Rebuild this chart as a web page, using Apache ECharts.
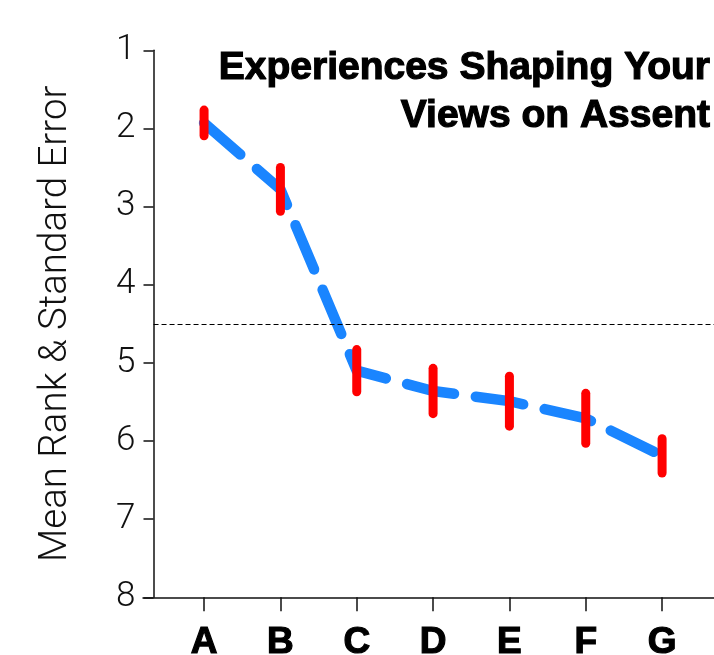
<!DOCTYPE html>
<html>
<head>
<meta charset="utf-8">
<title>Experiences Shaping Your Views on Assent</title>
<script src="https://cdn.jsdelivr.net/npm/echarts@6/dist/echarts.min.js"></script>
<style>
  html, body { margin: 0; padding: 0; background: #ffffff; }
  #chart { width: 714px; height: 655px; }
</style>
</head>
<body>
<div id="chart"></div>
<script>
// Categories (x positions 1..7) and their mean ranks with standard errors
const categories = ['A', 'B', 'C', 'D', 'E', 'F', 'G'];
const meanRank = [1.93, 2.78, 5.10, 5.36, 5.49, 5.71, 6.19];
const stdError = [0.165, 0.28, 0.27, 0.29, 0.32, 0.32, 0.22];
const rankTicks = [1, 2, 3, 4, 5, 6, 7, 8];
const referenceRank = 4.5;

const positions = categories.map((c, i) => i + 1);
const lineData = positions.map((x, i) => [x, meanRank[i]]);
const errorData = positions.map((x, i) => [x, meanRank[i] - stdError[i], meanRank[i] + stdError[i]]);

// x range: the y axis sits a little inside the left end of the x axis
const xMin = 0.2;
const xMax = 7.68;
const yAxisX = 0.338;

const chart = echarts.init(document.getElementById('chart'), null, { renderer: 'canvas' });

chart.setOption({
  animation: false,
  backgroundColor: '#ffffff',
  title: {
    text: 'Experiences Shaping Your\nViews on Assent',
    left: 705,
    top: 39,
    textAlign: 'right',
    textStyle: {
      fontFamily: 'Liberation Sans',
      fontWeight: 'bold',
      fontSize: 39,
      lineHeight: 48,
      color: '#000000',
      textBorderColor: '#000000',
      textBorderWidth: 1.2
    }
  },
  grid: { left: 143, right: 0, top: 50.3, bottom: 57.7, containLabel: false, outerBoundsMode: 'none' },
  xAxis: {
    type: 'value',
    min: xMin,
    max: xMax,
    splitLine: { show: false },
    axisLine: { show: true, lineStyle: { color: '#111111', width: 1.5 } },
    axisTick: { show: true, length: 14, lineStyle: { color: '#111111', width: 1.5 }, customValues: positions },
    axisLabel: {
      customValues: positions,
      formatter: v => categories[Math.round(v) - 1] || '',
      margin: 27,
      fontFamily: 'Liberation Sans',
      fontWeight: 'bold',
      fontSize: 37,
      color: '#000000',
      textBorderColor: '#000000',
      textBorderWidth: 1.2
    }
  },
  yAxis: {
    type: 'value',
    inverse: true,
    min: 1,
    max: 8,
    interval: 1,
    offset: -10.5,
    name: 'Mean Rank & Standard Error',
    nameLocation: 'middle',
    nameRotate: 90,
    nameGap: 78,
    nameTextStyle: { fontFamily: 'Roboto', fontWeight: 300, fontSize: 38.5, color: '#111111' },
    splitLine: { show: false },
    axisLine: { show: true, lineStyle: { color: '#111111', width: 1.5 } },
    axisTick: { show: true, length: 10, lineStyle: { color: '#111111', width: 1.5 } },
    axisLabel: {
      margin: 18,
      formatter: v => rankTicks.includes(v) ? String(v) : '',
      fontFamily: 'Roboto',
      fontWeight: 300,
      fontSize: 35,
      color: '#111111'
    }
  },
  series: [
    {
      type: 'line',
      data: lineData,
      symbol: 'none',
      z: 2,
      lineStyle: { color: '#1a85ff', width: 10.5, type: [48, 22], cap: 'round', join: 'round' },
      markLine: {
        silent: true,
        symbol: 'none',
        label: { show: false },
        lineStyle: { color: '#000000', width: 1, type: [5, 3] },
        data: [[{ coord: [yAxisX, referenceRank] }, { coord: [xMax, referenceRank] }]]
      }
    },
    {
      type: 'custom',
      z: 3,
      data: errorData,
      renderItem: function (params, api) {
        const top = api.coord([api.value(0), api.value(1)]);
        const bottom = api.coord([api.value(0), api.value(2)]);
        return {
          type: 'line',
          shape: { x1: top[0], y1: top[1], x2: bottom[0], y2: bottom[1] },
          style: { stroke: '#ff0000', lineWidth: 9, lineCap: 'round' }
        };
      }
    }
  ]
});
</script>
</body>
</html>
